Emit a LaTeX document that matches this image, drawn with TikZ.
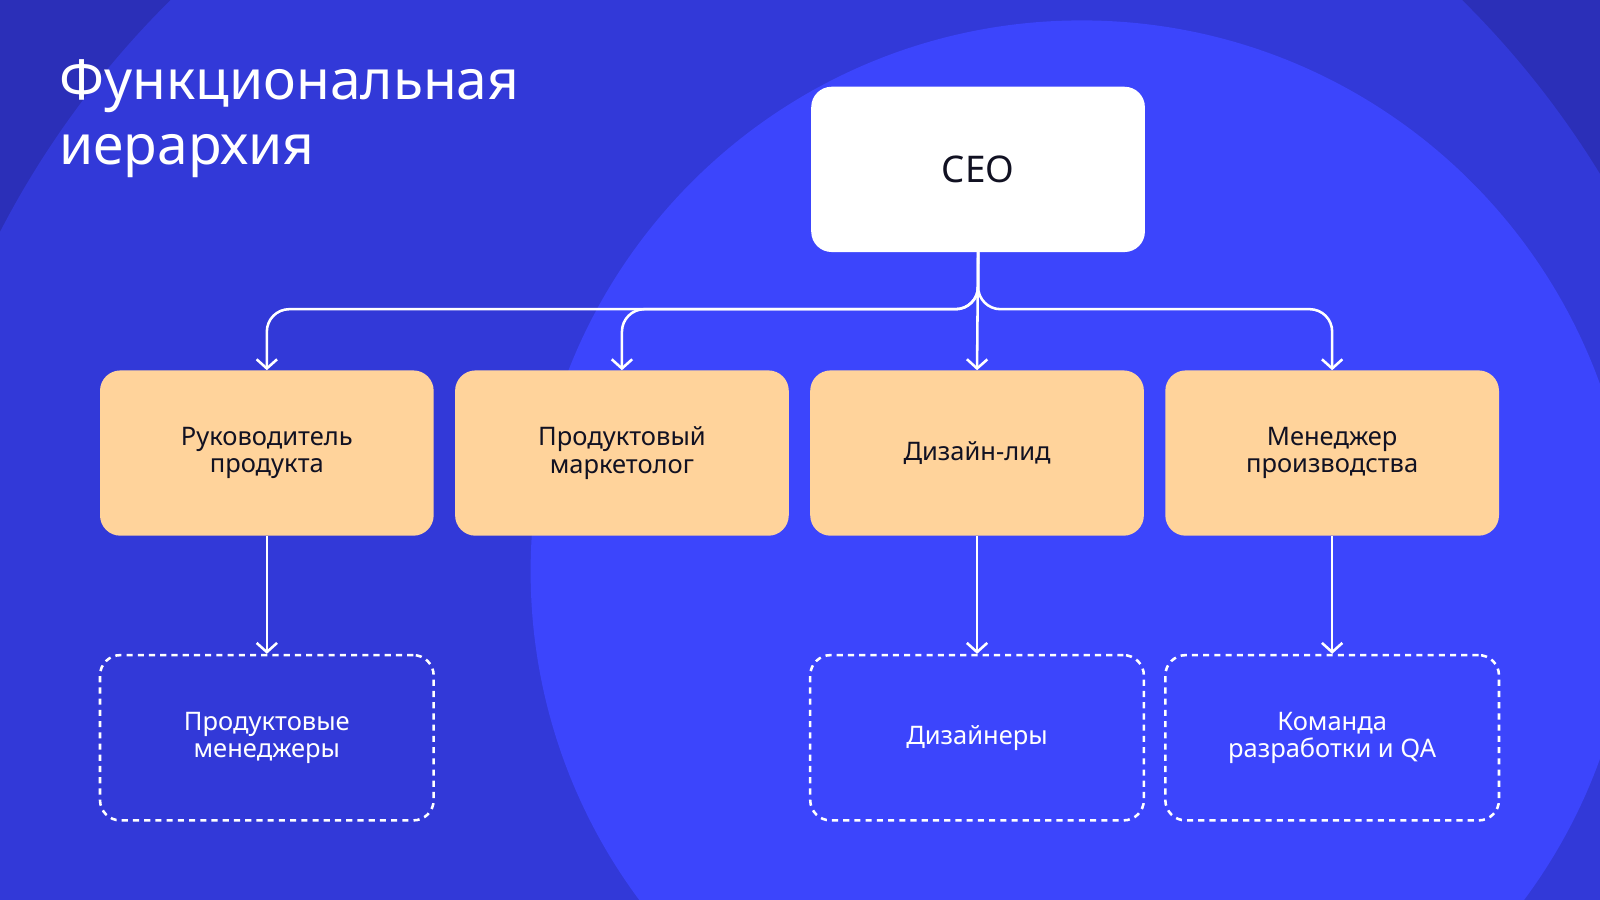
\documentclass[tikz,border=0pt]{standalone}
\usepackage{fontspec}
\setmainfont{Noto Sans}
\usetikzlibrary{arrows.meta}
\definecolor{bgdark}{HTML}{2B2FB8}
\definecolor{bgmid}{HTML}{3239D8}
\definecolor{bglight}{HTML}{3C45FC}
\definecolor{peach}{HTML}{FFD39B}
\definecolor{ink}{HTML}{111122}
\begin{document}
\begin{tikzpicture}[x=1pt,y=-1pt,
  box/.style={rounded corners=20pt,minimum width=327pt,minimum height=162pt,align=center,font=\fontsize{25}{27}\selectfont\bfseries,inner sep=0pt},
  solidbox/.style={box,fill=peach,text=ink},
  dashbox/.style={box,draw=white,line width=2.5pt,dash pattern=on 6pt off 5pt,text=white},
  conn/.style={draw=white,line width=2.5pt,rounded corners=22pt,-{Straight Barb[length=9pt,width=20pt,line width=2.5pt]}}]
\useasboundingbox (0,0) rectangle (1568,882);
\clip (0,0) rectangle (1568,882);
\fill[bgdark] (0,0) rectangle (1568,882);
\fill[bgmid] (800,640) circle (900);
\fill[bglight] (1060,560) circle (540);
\node[anchor=north west,align=left,text=white,font=\fontsize{54}{64}\selectfont\bfseries,inner sep=0pt] (title) at (58,58) {Функциональная\\иерархия};
\node[box,fill=white,text=ink,font=\fontsize{36}{40}\selectfont\bfseries] (ceo) at (958.5,166) {CEO};
\node[solidbox] (a) at (261.5,444) {Руководитель\\продукта};
\node[solidbox] (b) at (609.5,444) {Продуктовый\\маркетолог};
\node[solidbox] (c) at (957.5,444) {Дизайн-лид};
\node[solidbox] (d) at (1305.5,444) {Менеджер\\производства};
\node[dashbox] (a2) at (261.5,723) {Продуктовые\\менеджеры};
\node[dashbox] (c2) at (957.5,723) {Дизайнеры};
\node[dashbox] (d2) at (1305.5,723) {Команда\\разработки и QA};
\coordinate (j) at (958.5,303);
\draw[conn] (ceo.south) -- (j) -| (a.north);
\draw[conn] (ceo.south) -- (j) -| (b.north);
\draw[conn] (ceo.south) -- (j) -| (d.north);
\draw[conn] (ceo.south) -- (c.north);
\draw[conn] (a.south) -- (a2.north);
\draw[conn] (c.south) -- (c2.north);
\draw[conn] (d.south) -- (d2.north);
\end{tikzpicture}
\end{document}
